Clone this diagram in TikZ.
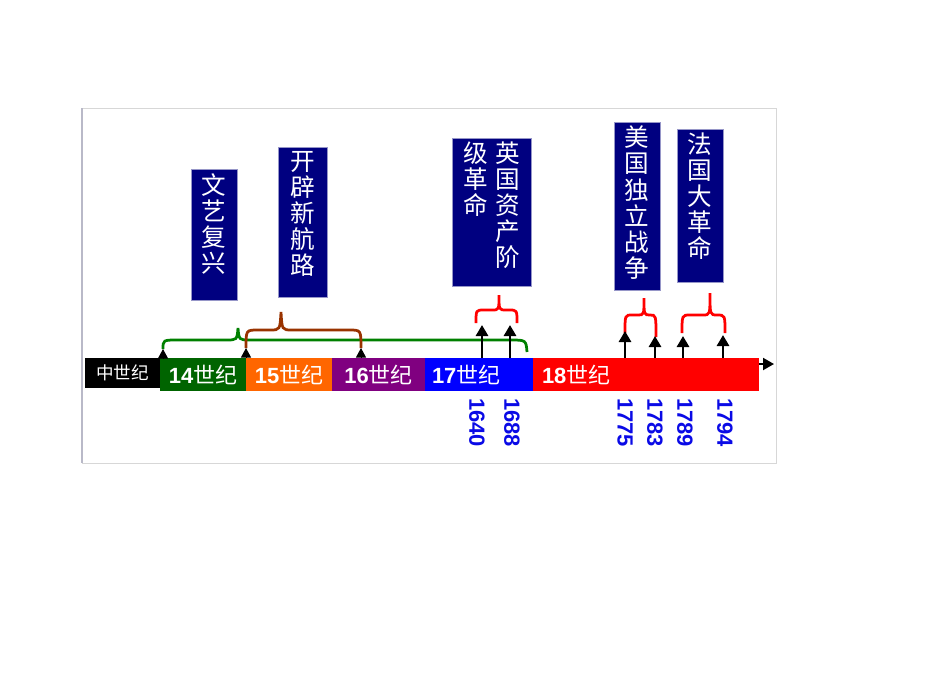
\documentclass[tikz,border=0pt]{standalone}
\usepackage{fontspec}
\setmainfont{Liberation Sans}
\newfontfamily\cjk{Noto Sans CJK SC}
\usepackage{tikz}
\usetikzlibrary{arrows.meta,positioning,calc}
\definecolor{boxnavy}{RGB}{0,0,128}
\definecolor{boxedge}{RGB}{150,150,200}
\definecolor{c14}{RGB}{0,100,0}
\definecolor{c15}{RGB}{255,102,0}
\definecolor{c16}{RGB}{128,0,128}
\definecolor{c17}{RGB}{0,0,255}
\definecolor{c18}{RGB}{255,0,0}
\definecolor{yearblue}{RGB}{10,10,230}
\definecolor{bracegreen}{RGB}{0,128,0}
\definecolor{bracebrown}{RGB}{153,51,0}
\tikzset{edge/.style = {
    -{Triangle[length=2.2mm,width=2.4mm]},
    line width=0.55mm,
  }
}
\newcommand{\evtext}[3]{\parbox[c][#2][t]{#1}{\centering\vspace*{2.2pt}#3}}
\newcommand{\evcol}[1]{\parbox[t]{4.9mm}{\centering #1}}

\begin{document}
\begin{tikzpicture}[x=0.2mm, y=-0.2mm]
          \useasboundingbox (0,0) rectangle (950,672);
          % vertices
          \tikzstyle{era} = [rectangle, text=white, inner sep=0pt, outer sep=0pt, minimum height=6.6mm, font=\fontsize{12.5pt}{14pt}\selectfont]
          \tikzstyle{event} = [rectangle, draw=boxedge, fill=boxnavy, text=white, inner sep=0pt, anchor=north, font=\cjk\fontsize{14pt}{14.8pt}\selectfont]
          \tikzstyle{year} = [text=yearblue, inner sep=0pt, rotate=-90, anchor=west, font=\bfseries\fontsize{12.5pt}{14pt}\selectfont]
          \tikzstyle{tick} = [-{Triangle[length=1.9mm,width=2mm]}, line width=0.2mm]
          \tikzstyle{brace} = [line width=0.55mm]

          % frame
          \draw[draw={rgb,255:red,215;green,215;blue,215}] (82,108) rectangle (776,463);
          \draw[draw={rgb,255:red,185;green,185;blue,200}, line width=0.5mm] (82,108) -- (82,463);

          % time line
          \node[era, fill=black, minimum width=15mm, minimum height=6mm, anchor=north west, font=\cjk\fontsize{10pt}{12pt}\selectfont] (s0) at (85,358) {中世纪};
          \node[era, fill=c14, minimum width=17.2mm, right=0mm of s0.north east, anchor=north west] (s14) {{\bfseries 14}{\cjk 世纪}};
          \node[era, fill=c15, minimum width=17.2mm, right=0mm of s14.north east, anchor=north west] (s15) {{\bfseries 15}{\cjk 世纪}};
          \node[era, fill=c16, minimum width=18.6mm, right=0mm of s15.north east, anchor=north west] (s16) {{\bfseries 16}{\cjk 世纪}};
          \node[era, fill=c17, inner xsep=1.4mm, text width=18.8mm, align=left, right=0mm of s16.north east, anchor=north west] (s17) {{\bfseries 17}{\cjk 世纪}};
          \node[era, fill=c18, inner xsep=1.8mm, text width=41.6mm, align=left, right=0mm of s17.north east, anchor=north west] (s18) {{\bfseries 18}{\cjk 世纪}};

          \coordinate (axisend) at (774,364);
          \draw[-{Triangle[length=2.2mm,width=2.4mm]}, line width=0.4mm] (s18.east |- axisend) -- (axisend);

          % events
          \node[event] (wenyi) at (214,169) {\evtext{9.2mm}{26.2mm}{文\\艺\\复\\兴}};
          \node[event] (hanglu) at (302.5,147) {\evtext{9.8mm}{30mm}{开\\辟\\新\\航\\路}};
          \node[event] (yingguo) at (491.5,138) {\evtext{15.8mm}{29.6mm}{\mbox{\evcol{级\\革\\命}\hspace{1.6mm}\evcol{英\\国\\资\\产\\阶}}}};
          \node[event] (meiguo) at (637,122) {\evtext{9.2mm}{33.6mm}{美\\国\\独\\立\\战\\争}};
          \node[event] (faguo) at (700,129) {\evtext{9.2mm}{30.6mm}{法\\国\\大\\革\\命}};

          % braces
          \coordinate (gl) at (163,349);
          \coordinate (gr) at (527,352);
          \coordinate (bl) at (246,348);
          \coordinate (br) at (361,348);
          \draw[tick] (gl |- s14.north) -- (gl);
          \draw[tick] (bl |- s15.north) -- (bl);
          \draw[tick] (br |- s16.north) -- (br);

          \draw[brace, bracegreen] (gl) .. controls (163,340) .. (178,340) -- (226,340) .. controls (237,340) .. (238,328) .. controls (239,340) .. (250,340) -- (510,340) .. controls (526,340) .. (gr);
          \draw[brace, bracebrown] (bl) .. controls (246,330) .. (258,330) -- (270,330) .. controls (280,330) .. (281,312) .. controls (282,330) .. (292,330) -- (349,330) .. controls (361,330) .. (br);

          \draw[brace, red] (476,323) .. controls (476,310) .. (484,310) -- (492,310) .. controls (499,310) .. (499,295) .. controls (499,310) .. (506,310) -- (509,310) .. controls (517,310) .. (517,323);
          \draw[brace, red] (625,333) .. controls (625,315) .. (632,315) -- (638,315) .. controls (644,315) .. (644,298) .. controls (644,315) .. (650,315) .. controls (656,315) .. (656,337);
          \draw[brace, red] (682,333) .. controls (682,315) .. (690,315) -- (703,315) .. controls (710,315) .. (710,293) .. controls (710,315) .. (717,315) .. controls (725,315) .. (725,333);

          % years
          \coordinate (a1640) at (482,325);
          \coordinate (a1688) at (510,325);
          \coordinate (a1775) at (625,331);
          \coordinate (a1783) at (655,336);
          \coordinate (a1789) at (683,336);
          \coordinate (a1794) at (723,335);
          \draw[edge] (a1640 |- s17.north) -- (a1640);
          \draw[edge] (a1688 |- s17.north) -- (a1688);
          \draw[edge] (a1775 |- s18.north) -- (a1775);
          \draw[edge] (a1783 |- s18.north) -- (a1783);
          \draw[edge] (a1789 |- s18.north) -- (a1789);
          \draw[edge] (a1794 |- s18.north) -- (a1794);

          \node[year] (y1640) at (477,398) {1640};
          \node[year] (y1688) at (512,398) {1688};
          \node[year] (y1775) at (625,398) {1775};
          \node[year] (y1783) at (655,398) {1783};
          \node[year] (y1789) at (685,398) {1789};
          \node[year] (y1794) at (725,398) {1794};
\end{tikzpicture}
\end{document}
